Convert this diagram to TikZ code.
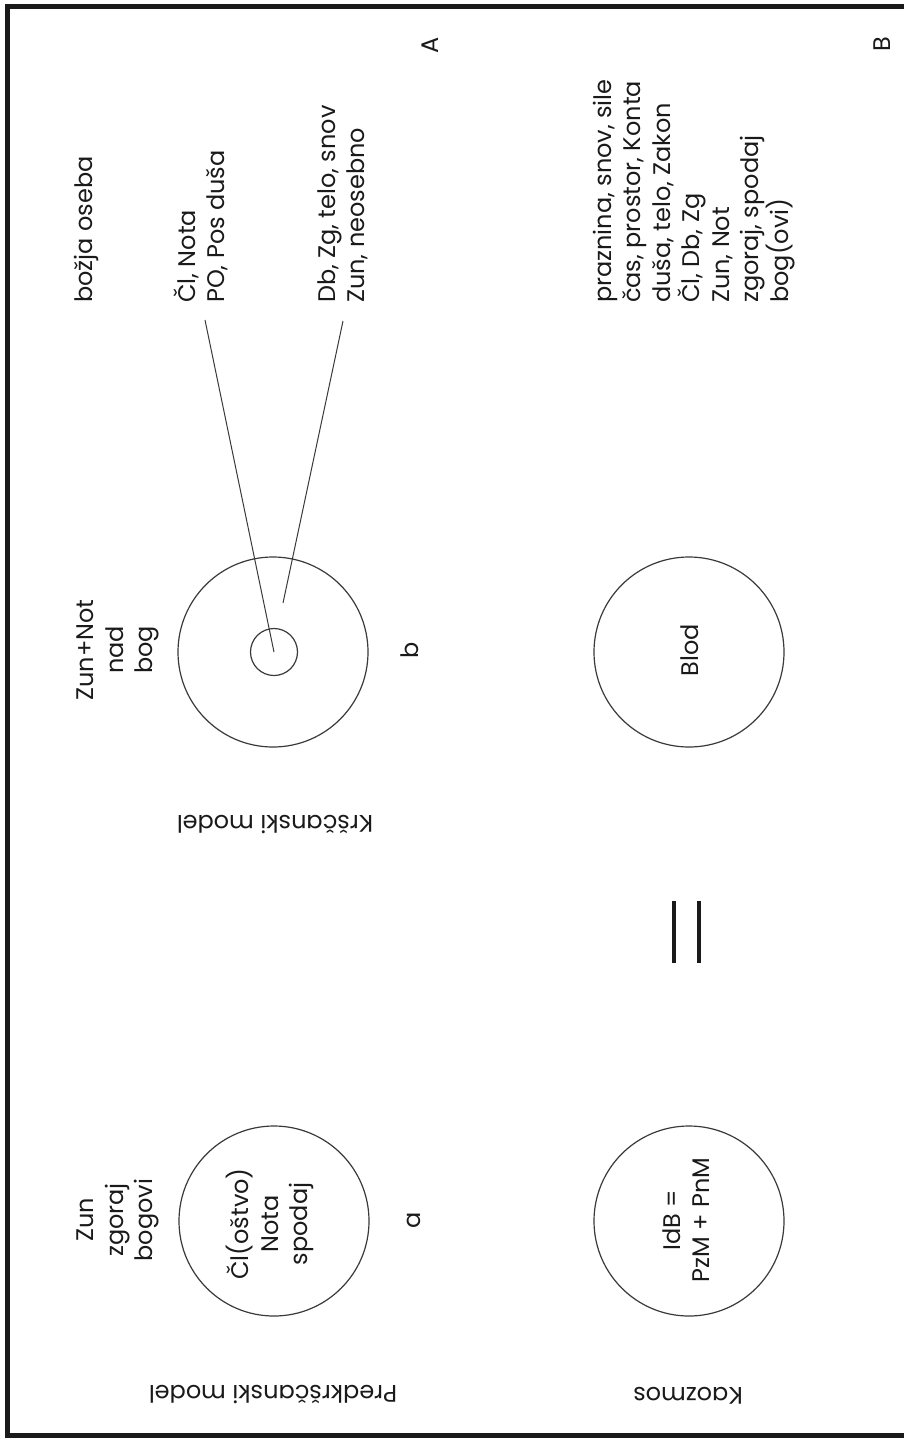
\documentclass[tikz,border=0pt]{standalone}
\usepackage{fontspec}
\setmainfont{Poppins}
\usetikzlibrary{calc}
\definecolor{ink}{HTML}{1A1A1A}
\definecolor{ringc}{HTML}{3A3A3A}
\begin{document}
\begin{tikzpicture}[x=1pt,y=-1pt,
  txt/.style={font=\fontsize{24}{29.5}\selectfont, text=ink, inner sep=0pt},
  up/.style={txt, rotate=90},
  upside/.style={txt, rotate=180},
  ring/.style={draw=ringc, line width=1.2pt, circle, minimum size=#1, inner sep=0pt},
  conn/.style={draw=ringc, line width=1pt},
  frame/.style={draw=ink, line width=5pt},
  bar/.style={draw=ink, line width=4.5pt}]
\useasboundingbox (0,0) rectangle (904,1438);
\fill[white] (0,0) rectangle (904,1438);
% frame
\draw[frame] (904,6.5) -- (7.5,6.5) -- (7.5,1435.3) -- (904,1435.3);

% top row (A)
\node[up, anchor=west] (bozja) at (86,303) {božja oseba};
\node[up, anchor=west, align=left] (cl) at (201,303) {Čl, Nota\\PO, Pos duša};
\node[up, anchor=west, align=left] (db) at (343,303) {Db, Zg, telo, snov\\Zun, neosebno};
\node[up] (A) at (430,45) {A};
\node[up] (B) at (882,44) {B};
\node[up, anchor=west, align=left] (praz) at (694,303) {praznina, snov, sile\\čas, prostor, Konta\\duša, telo, Zakon\\Čl, Db, Zg\\Zun, Not\\zgoraj, spodaj\\bog(ovi)};

% middle row (b)
\node[up, align=center] (zunnot) at (118,650) {Zun+Not\\nad\\bog};
\node[ring=190pt] (cb) at (273,652) {};
\node[ring=47pt] (cbi) at (274,652) {};
\node[up] (bl) at (410,650) {b};
\node[upside] (krs) at (275,825) {Krščanski model};
\node[ring=190pt] (cblod) at (689,652) {};
\node[up] (blod) at (690,650) {Blod};

% connectors
\coordinate (l2e) at (283,603);
\draw[conn] ($(cl.west)+(4,17)$) -- (cbi.center);
\draw[conn] ($(db.west)+(0,18)$) -- (l2e);

% equals sign
\coordinate (e1a) at (674,901);
\coordinate (e1b) at (674,963);
\coordinate (e2a) at (699,901);
\coordinate (e2b) at (699,963);
\draw[bar] (e1a) -- (e1b);
\draw[bar] (e2a) -- (e2b);

% bottom row (a)
\node[up, align=center] (zunz) at (118,1220) {Zun\\zgoraj\\bogovi};
\node[ring=190pt] (ca) at (274,1221) {};
\node[up, align=center] (clo) at (270,1224) {Čl(oštvo)\\Nota\\spodaj};
\node[up] (al) at (414,1220) {a};
\node[upside] (pred) at (273,1395) {Predkrščanski model};
\node[ring=190pt] (ck) at (689,1221) {};
\node[up, align=center] (idb) at (686,1220) {IdB =\\PzM + PnM};
\node[upside] (kao) at (688,1396) {Kaozmos};
\end{tikzpicture}
\end{document}
